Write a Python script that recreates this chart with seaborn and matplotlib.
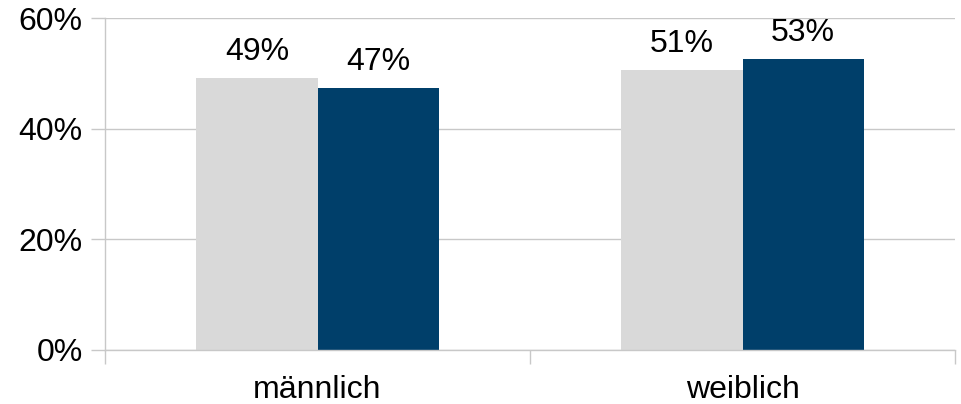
import matplotlib
matplotlib.use("Agg")
from matplotlib import pyplot as plt
from matplotlib.ticker import FixedLocator, PercentFormatter
import pandas as pd
import seaborn as sns

categories = ["männlich", "weiblich"]
series_names = ["A", "B"]
values_a = [49.2, 50.6]
values_b = [47.3, 52.6]
colors = ["#D9D9D9", "#003F6A"]

df = pd.DataFrame({
    "Geschlecht": categories * 2,
    "Gruppe": [series_names[0]] * 2 + [series_names[1]] * 2,
    "Wert": values_a + values_b,
})

sns.set_theme(style="white")
plt.rcParams["font.family"] = ["Liberation Sans", "DejaVu Sans"]

fig = plt.figure(figsize=(9.61, 4.04), dpi=100)
ax = fig.add_axes([0.1093, 0.1337, 0.8845, 0.8217])

sns.barplot(data=df, x="Geschlecht", y="Wert", hue="Gruppe", palette=colors,
            width=0.57, saturation=1, linewidth=0, ax=ax, legend=False)

for c in ax.containers:
    ax.bar_label(c, labels=[f"{v:.0f}%" for v in c.datavalues],
                 padding=8, fontsize=23, color="#000000")

ax.set_ylim(0, 60)
ax.set_xlim(-0.5, 1.5)
ax.set_yticks([0, 20, 40, 60])
ax.yaxis.set_major_formatter(PercentFormatter(decimals=0))
ax.yaxis.grid(True, color="#C8C8C8", linewidth=1)
ax.set_axisbelow(True)
ax.set_xlabel("")
ax.set_ylabel("")

ax.xaxis.set_minor_locator(FixedLocator([-0.5, 0.5, 1.5]))
ax.tick_params(axis="x", which="major", length=0, pad=18, labelsize=23, labelcolor="#000000")
ax.tick_params(axis="x", which="minor", length=10, width=1, color="#C8C8C8", direction="out", bottom=True)
ax.tick_params(axis="y", length=10, width=1, color="#C8C8C8", direction="out", left=True,
               labelsize=23, labelcolor="#000000", pad=6)

for s in ["top", "right"]:
    ax.spines[s].set_visible(False)
for s in ["left", "bottom"]:
    ax.spines[s].set_color("#C8C8C8")
    ax.spines[s].set_linewidth(1)

fig.savefig("out.png", dpi=100)
